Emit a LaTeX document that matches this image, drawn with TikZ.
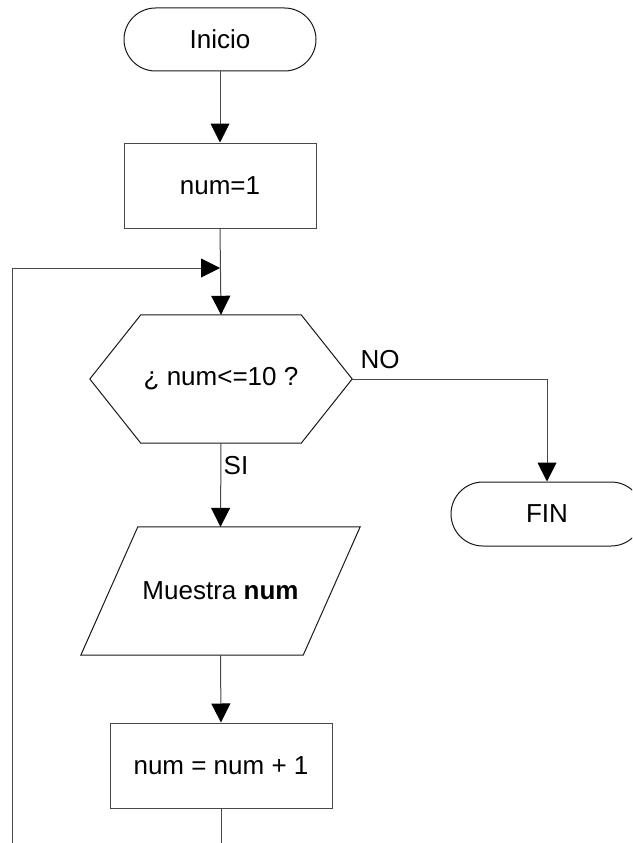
\documentclass[tikz,border=0pt]{standalone}
\usepackage{fontspec}
\setmainfont{Liberation Sans}
\usetikzlibrary{arrows.meta,calc}

\tikzset{
  flowline/.style={draw=black!72, line width=1pt},
  arrowline/.style={flowline, -{Triangle[width=19pt,length=19pt,black]}},
  terminal/.style={draw=black!90, line width=1pt, rounded corners=31.5pt,
    minimum width=192pt, minimum height=63pt, inner sep=0pt},
  process/.style={draw=black!72, line width=1pt, minimum height=85pt, inner sep=0pt},
  shapeframe/.style={draw=black!90, line width=1pt},
  anchorbox/.style={draw=none, inner sep=0pt},
  lbl/.style={inner sep=0pt}
}

\begin{document}
\begin{tikzpicture}[x=1pt, y=-1pt, font=\fontsize{26}{30}\selectfont]
  % page frame and clipping region
  \clip (0,0) rectangle (632,843);
  \fill[white] (0,0) rectangle (632,843);

  % nodes
  \node[terminal] (ini) at (220,39.5) {Inicio};
  \node[process, minimum width=192pt] (set) at (220,185.5) {num=1};
  \node[anchorbox, minimum width=262pt, minimum height=128pt] (cond) at (221,379) {¿ num<=10 ?};
  \node[anchorbox, minimum width=279pt, minimum height=128pt] (show) at (220.5,591) {Muestra \textbf{num}};
  \node[process, minimum width=222pt] (inc) at (221,765.5) {num = num + 1};
  \node[terminal, minimum height=64pt, rounded corners=32pt] (fin) at (547,514) {FIN};

  % decision hexagon
  \draw[shapeframe] (cond.west) -- ([xshift=51pt]cond.north west)
    -- ([xshift=-51pt]cond.north east) -- (cond.east)
    -- ([xshift=-51pt]cond.south east) -- ([xshift=51pt]cond.south west) -- cycle;

  % output parallelogram
  \draw[shapeframe] ([xshift=57pt]show.north west) -- (show.north east)
    -- ([xshift=-57pt]show.south east) -- (show.south west) -- cycle;

  % helper coordinates for the loop back
  \coordinate (loopTop) at (12,268);
  \coordinate (loopBot) at (12,843);
  \coordinate (join) at (set.south |- loopTop);
  \coordinate (incBot) at (inc.south |- loopBot);

  % connectors
  \draw[arrowline] (ini.south) -- (set.north);
  \draw[arrowline] (set.south) -- (cond.north);
  \draw[arrowline] (loopBot) -- (loopTop) -- (join);
  \draw[arrowline] (cond.south) -- (show.north);
  \draw[arrowline] (show.south) -- (inc.north);
  \draw[flowline] (inc.south) -- (incBot);
  \draw[arrowline] (cond.east) -| (fin.north);

  % branch labels
  \node[lbl] (no) at (380,360) {NO};
  \node[lbl] (si) at (236,466) {SI};
\end{tikzpicture}
\end{document}
